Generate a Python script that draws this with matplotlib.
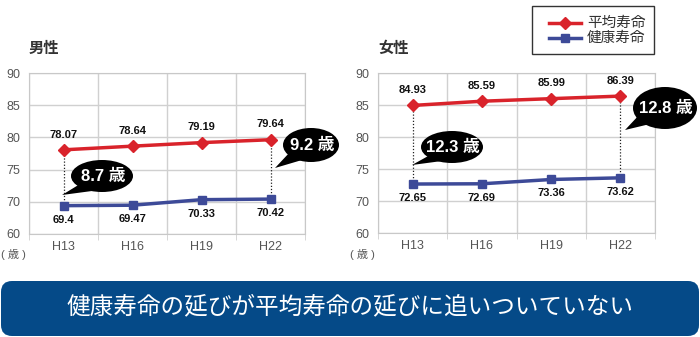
import matplotlib
matplotlib.use("Agg")
import matplotlib.pyplot as plt
from matplotlib.patches import Ellipse, Polygon, FancyBboxPatch, Rectangle

plt.rcParams['font.family'] = ['Liberation Sans', 'Noto Sans CJK JP', 'DejaVu Sans']

# data
years = ['H13', 'H16', 'H19', 'H22']
male_avg = [78.07, 78.64, 79.19, 79.64]
male_healthy = [69.4, 69.47, 70.33, 70.42]
female_avg = [84.93, 85.59, 85.99, 86.39]
female_healthy = [72.65, 72.69, 73.36, 73.62]
male_gaps = ['8.7 歳', '9.2 歳']
female_gaps = ['12.3 歳', '12.8 歳']
ytick_vals = [65, 70, 75, 80, 85, 90]
ytick_labels = ['60', '70', '75', '80', '85', '90']
series_names = ['平均寿命', '健康寿命']

RED = '#d9232b'
BLUE = '#3d4a98'
W, H = 700, 337

fig = plt.figure(figsize=(7, 3.37), dpi=100)


def px_axes(x0, y0, x1, y1):
    # pixel box (top-left origin) -> figure fraction
    return fig.add_axes([x0 / W, 1 - y1 / H, (x1 - x0) / W, (y1 - y0) / H])


def draw_panel(ax, avg, healthy, title):
    xs = range(len(years))
    ax.set_xlim(-0.5, len(years) - 0.5)
    ax.set_ylim(65, 90)
    ax.set_yticks(ytick_vals)
    ax.set_yticklabels(ytick_labels)
    ax.set_xticks(list(xs))
    ax.set_xticklabels(years)
    ax.set_xticks([i - 0.5 for i in range(len(years) + 1)], minor=True)
    ax.grid(True, which='minor', axis='x', color='#d0d0d0', lw=1)
    ax.grid(True, which='major', axis='y', color='#d0d0d0', lw=1)
    ax.tick_params(which='major', axis='x', length=0, pad=5)
    ax.tick_params(which='minor', axis='x', length=4, color='#d0d0d0')
    ax.tick_params(axis='y', length=0, pad=6)
    ax.tick_params(labelsize=9, labelcolor='#555555')
    for s in ax.spines.values():
        s.set_color('#c8c8c8')
    ax.set_axisbelow(True)

    ax.plot(xs, avg, color=RED, lw=2.5, marker='D', ms=6, zorder=4)
    ax.plot(xs, healthy, color=BLUE, lw=2.5, marker='s', ms=6, zorder=4)
    for i in xs:
        ax.annotate(f'{avg[i]:g}', (i, avg[i]), xytext=(0, 11), textcoords='offset points',
                    ha='center', va='center', fontsize=8, fontweight='bold', color='#111111')
        ax.annotate(f'{healthy[i]:g}', (i, healthy[i]), xytext=(0, -10), textcoords='offset points',
                    ha='center', va='center', fontsize=8, fontweight='bold', color='#111111')
    for i in (0, len(years) - 1):
        ax.plot([i, i], [healthy[i], avg[i]], color='#222222', lw=0.9, ls=(0, (1, 1.5)), zorder=3)
    ax.text(0, 1.15, title, transform=ax.transAxes, fontsize=11, fontweight='bold',
            color='#333333', ha='left', va='center')


ax1 = px_axes(29, 73, 305, 234)
draw_panel(ax1, male_avg, male_healthy, '男性')
ax2 = px_axes(378, 73, 655, 233)
draw_panel(ax2, female_avg, female_healthy, '女性')

# overlay in pixel units for bubbles, legend and banner
ov = fig.add_axes([0, 0, 1, 1], zorder=10)
ov.set_xlim(0, W)
ov.set_ylim(H, 0)
ov.axis('off')

for x0 in (1, 350):
    ov.text(x0, 254, '( 歳 )', fontsize=8, color='#555555', ha='left', va='center')


def bubble(cx, cy, w, h, tip, base1, base2, text, fs=12):
    ov.add_patch(Polygon([base1, tip, base2], closed=True, color='black', lw=0))
    ov.add_patch(Ellipse((cx, cy), w, h, color='black', lw=0))
    ov.text(cx + 1, cy, text, color='white', fontsize=fs, fontweight='bold',
            ha='center', va='center')


bubble(102, 176, 62, 32, (62, 195), (80, 184), (92, 191), male_gaps[0])
bubble(311, 145, 56, 34, (275, 168), (290, 152), (302, 160), male_gaps[1])
bubble(452, 147, 62, 32, (412, 165), (430, 155), (442, 161), female_gaps[0])
bubble(665, 108, 64, 42, (625, 130), (640, 114), (650, 124), female_gaps[1])

# legend box
ov.add_patch(Rectangle((532, 6), 122, 48, facecolor='white', edgecolor='#333333', lw=1))
for row, (name, col, mk) in enumerate(zip(series_names, [RED, BLUE], ['D', 's'])):
    y = 23 + row * 15
    ov.plot([549, 581], [y, y], color=col, lw=2.5)
    ov.plot([565], [y], color=col, marker=mk, ms=6)
    ov.text(587, y, name, fontsize=10.5, color='#333333', ha='left', va='center')

# banner
ov.add_patch(FancyBboxPatch((12, 292), 676, 33, boxstyle='round,pad=11',
                            facecolor='#054a88', edgecolor='none'))
ov.text(350, 307, '健康寿命の延びが平均寿命の延びに追いついていない', color='white',
        fontsize=17, ha='center', va='center')

fig.savefig('out.png', dpi=100)
